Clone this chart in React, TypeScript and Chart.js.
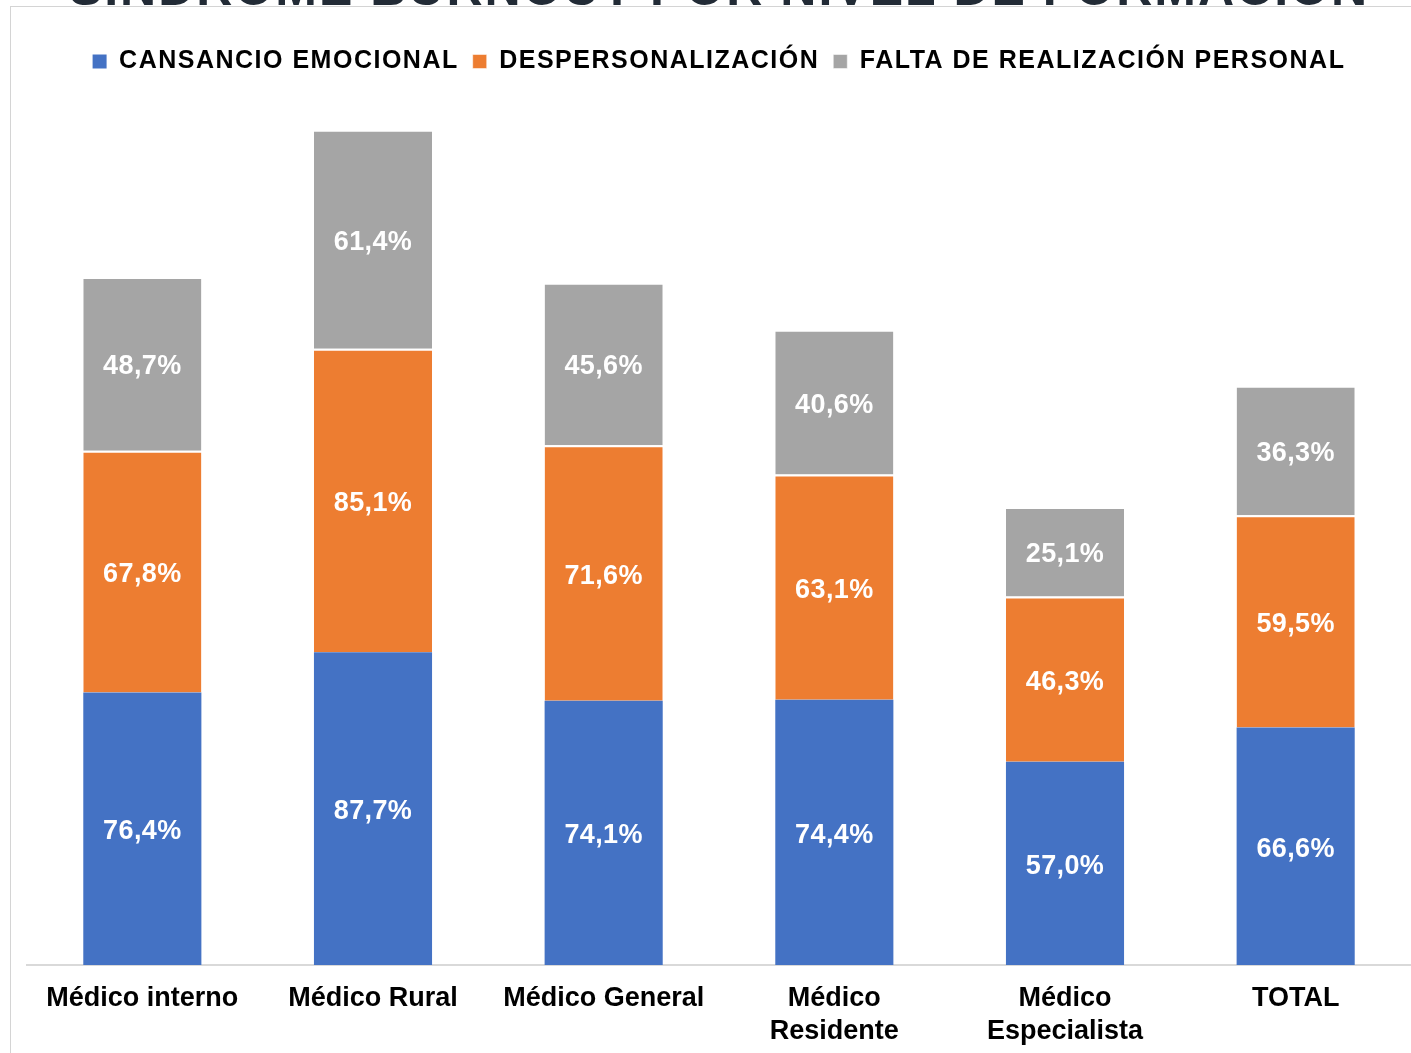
import React, { useEffect, useRef } from "react";
import { Chart, registerables } from "chart.js";

Chart.register(...registerables);

const TITLE = "SÍNDROME BURNOUT POR NIVEL DE FORMACIÓN";
const categories: (string | string[])[] = [
  "Médico interno",
  "Médico Rural",
  "Médico General",
  ["Médico", "Residente"],
  ["Médico", "Especialista"],
  "TOTAL",
];
const seriesNames = [
  "CANSANCIO EMOCIONAL",
  "DESPERSONALIZACIÓN",
  "FALTA DE REALIZACIÓN PERSONAL",
];
const cansancio = [76.4, 87.7, 74.1, 74.4, 57.0, 66.6];
const despersonalizacion = [67.8, 85.1, 71.6, 63.1, 46.3, 59.5];
const faltaRealizacion = [48.7, 61.4, 45.6, 40.6, 25.1, 36.3];
const colors = ["#4472C4", "#ED7D31", "#A5A5A5"];
const Y_MAX = 247;

const FONT = "'Liberation Sans', Arial, sans-serif";

const fmt = (v: number) => v.toFixed(1).replace(".", ",") + "%";

const labelPlugin = {
  id: "segLabels",
  afterDatasetsDraw(chart: any) {
    const ctx = chart.ctx;
    ctx.save();
    ctx.fillStyle = "#ffffff";
    ctx.font = `bold 27px ${FONT}`;
    ctx.letterSpacing = "0.4px";
    ctx.textAlign = "center";
    ctx.textBaseline = "middle";
    chart.data.datasets.forEach((ds: any, i: number) => {
      const meta = chart.getDatasetMeta(i);
      meta.data.forEach((bar: any, j: number) => {
        const { x, y, base } = bar.getProps(["x", "y", "base"], true);
        ctx.fillText(fmt(ds.data[j]), x, (y + base) / 2 + 3);
      });
    });
    ctx.letterSpacing = "0px";
    ctx.restore();
  },
};

function withSpacing(obj: any, method: string, spacing: string) {
  if (!obj || !obj[method]) return;
  const orig = obj[method].bind(obj);
  obj[method] = function (...args: any[]) {
    const c = obj.ctx;
    const prev = c.letterSpacing;
    c.letterSpacing = spacing;
    const r = orig(...args);
    c.letterSpacing = prev || "0px";
    return r;
  };
}

export default function App() {
  const ref = useRef<HTMLCanvasElement>(null);
  useEffect(() => {
    if (!ref.current) return;
    const chart: any = new Chart(ref.current, {
      type: "bar",
      data: {
        labels: categories,
        datasets: [cansancio, despersonalizacion, faltaRealizacion].map((d, i) => ({
          label: seriesNames[i],
          data: d,
          backgroundColor: colors[i],
          borderColor: "#ffffff",
          borderWidth: i === 0 ? 0 : { top: 2, bottom: 0, left: 0, right: 0 },
          borderSkipped: false,
          categoryPercentage: 1,
          barPercentage: 0.512,
        })),
      },
      options: {
        responsive: false,
        animation: false,
        devicePixelRatio: 1,
        layout: { padding: { left: 17, right: 0, top: 0, bottom: 7 } },
        plugins: {
          title: {
            display: true,
            text: TITLE,
            color: "#222b36",
            font: { family: FONT, size: 50, weight: "bold", lineHeight: 1.2 },
            padding: { top: 0, bottom: 14 },
          },
          legend: {
            display: true,
            position: "top",
            labels: {
              color: "#000000",
              font: { family: FONT, size: 25, weight: "bold" },
              boxWidth: 14,
              boxHeight: 14,
              padding: 14,
            },
          },
          tooltip: { enabled: false },
        },
        scales: {
          x: {
            stacked: true,
            grid: { display: false, drawTicks: false },
            border: { display: true, color: "#d9d9d9", width: 2 },
            ticks: {
              color: "#000000",
              font: { family: FONT, size: 27, weight: "bold", lineHeight: 1.22 },
              padding: 17,
              maxRotation: 0,
              autoSkip: false,
            },
          },
          y: {
            stacked: true,
            display: false,
            min: 0,
            max: Y_MAX,
          },
        },
      },
      plugins: [labelPlugin],
    });
    withSpacing(chart.legend, "fit", "1.5px");
    withSpacing(chart.legend, "draw", "1.5px");
    withSpacing(chart.titleBlock, "draw", "2px");
    chart.update();
    return () => chart.destroy();
  }, []);

  return (
    <div
      style={{
        position: "fixed",
        left: 0,
        top: 0,
        width: 1411,
        height: 1053,
        overflow: "hidden",
        background: "#ffffff",
      }}
    >
      <canvas
        ref={ref}
        width={1401}
        height={1111}
        style={{ position: "absolute", left: 10, top: -39, width: 1401, height: 1111 }}
      />
      <div
        style={{
          position: "absolute",
          left: 10,
          top: 6,
          right: -2,
          bottom: -2,
          borderTop: "1px solid #d4d4d4",
          borderLeft: "1px solid #d4d4d4",
          pointerEvents: "none",
        }}
      />
    </div>
  );
}
